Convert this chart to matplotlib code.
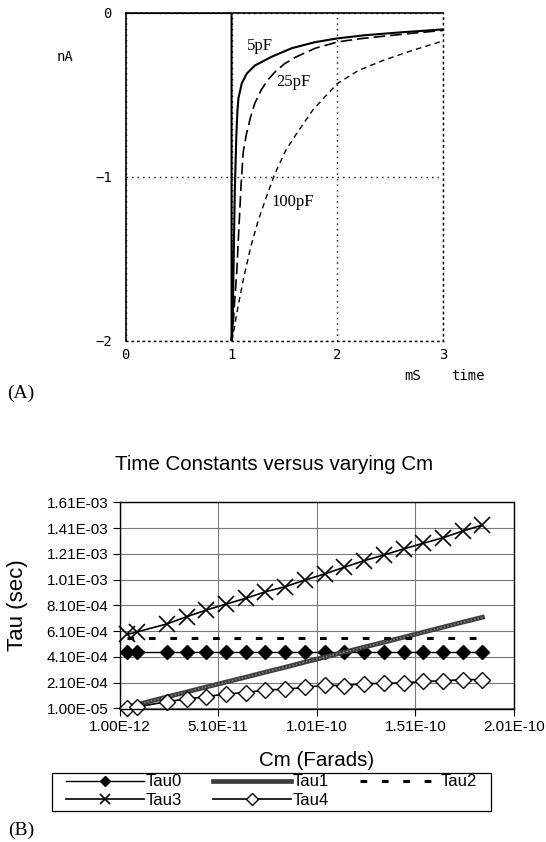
import matplotlib
matplotlib.use("Agg")
import matplotlib.pyplot as plt
from matplotlib.patches import Rectangle

W, H = 546, 842

# ---------------- Panel A data ----------------
t_5pF = [0.0, 1.0, 1.0, 1.01, 1.02, 1.03, 1.045, 1.055, 1.065, 1.096, 1.143, 1.221, 1.379, 1.568, 1.788, 2.0, 2.27, 2.6, 3.0]
I_5pF = [0.0, 0.0, -2.0, -1.9, -1.5, -1.1, -0.75, -0.6, -0.52, -0.43, -0.37, -0.32, -0.267, -0.215, -0.178, -0.155, -0.135, -0.118, -0.100]

t_25pF = [1.0, 1.01, 1.03, 1.05, 1.07, 1.09, 1.11, 1.14, 1.18, 1.22, 1.28, 1.34, 1.41, 1.5, 1.61, 1.79, 2.0, 2.2, 2.43, 2.7, 3.0]
I_25pF = [-2.0, -1.95, -1.75, -1.57, -1.3, -1.05, -0.85, -0.74, -0.634, -0.55, -0.47, -0.41, -0.36, -0.31, -0.268, -0.215, -0.177, -0.158, -0.142, -0.124, -0.106]

t_100pF = [1.0, 1.01, 1.05, 1.11, 1.18, 1.25, 1.33, 1.41, 1.51, 1.61, 1.77, 2.0, 2.2, 2.43, 2.7, 3.0]
I_100pF = [-2.0, -1.98, -1.83, -1.63, -1.43, -1.27, -1.12, -0.98, -0.84, -0.74, -0.59, -0.43, -0.35, -0.29, -0.23, -0.17]

a_xticks = [0, 1, 2, 3]
a_yticks = [0, -1, -2]

# ---------------- Panel B data ----------------
Cm = [5e-12, 1.0e-11, 2.5e-11, 3.5e-11, 4.5e-11, 5.5e-11, 6.5e-11, 7.5e-11, 8.5e-11, 9.5e-11,
      1.05e-10, 1.15e-10, 1.25e-10, 1.35e-10, 1.45e-10, 1.55e-10, 1.65e-10, 1.75e-10, 1.85e-10]
Tau0 = [4.52e-4] * 19
Tau1 = [2.2e-5, 4.0e-5, 1.0e-4, 1.38e-4, 1.77e-4, 2.15e-4, 2.53e-4, 2.92e-4, 3.30e-4, 3.70e-4,
        4.08e-4, 4.47e-4, 4.86e-4, 5.24e-4, 5.63e-4, 6.02e-4, 6.41e-4, 6.80e-4, 7.18e-4]
Tau2 = [5.58e-4] * 19
Tau3 = [5.85e-4, 6.05e-4, 6.66e-4, 7.22e-4, 7.74e-4, 8.2e-4, 8.65e-4, 9.16e-4, 9.55e-4, 1.007e-3,
        1.054e-3, 1.106e-3, 1.157e-3, 1.201e-3, 1.248e-3, 1.292e-3, 1.335e-3, 1.387e-3, 1.434e-3]
Tau4 = [1.5e-5, 2.2e-5, 6.3e-5, 8.4e-5, 1.02e-4, 1.23e-4, 1.33e-4, 1.54e-4, 1.59e-4, 1.74e-4,
        1.9e-4, 1.88e-4, 2.02e-4, 2.06e-4, 2.08e-4, 2.2e-4, 2.24e-4, 2.35e-4, 2.33e-4]
b_yticks = [1.0e-5, 2.1e-4, 4.1e-4, 6.1e-4, 8.1e-4, 1.01e-3, 1.21e-3, 1.41e-3, 1.61e-3]
b_xticks = [1.0e-12, 5.1e-11, 1.01e-10, 1.51e-10, 2.01e-10]

fig = plt.figure(figsize=(W / 100, H / 100), dpi=100)
fig.patch.set_facecolor("white")


def fx(px):
    return px / W


def fy(py):
    return 1 - py / H


def axes_px(l, t, r, b):
    return fig.add_axes([fx(l), fy(b), (r - l) / W, (b - t) / H])


MONO = "DejaVu Sans Mono"
SERIF = "Liberation Serif"
SANS = "Liberation Sans"

# ---------------- Panel A ----------------
axA = axes_px(125.7, 13.0, 443.3, 340.7)
axA.set_xlim(0, 3)
axA.set_ylim(-2, 0)
axA.plot(t_5pF, I_5pF, color="black", lw=1.5, solid_joinstyle="round")
axA.plot(t_25pF, I_25pF, color="black", lw=1.2, dashes=(7, 3))
axA.plot(t_100pF, I_100pF, color="black", lw=1.0, dashes=(4, 3))
axA.set_xticks(a_xticks)
axA.set_yticks(a_yticks)
axA.set_xticklabels([str(v) for v in a_xticks], fontfamily=MONO, fontsize=10)
axA.set_yticklabels([str(v).replace("-", "\u2212") for v in a_yticks], fontfamily=MONO, fontsize=10)
axA.tick_params(axis="x", length=0, pad=5)
axA.tick_params(axis="y", length=0, pad=10)
axA.grid(True, color="black", lw=1.0, linestyle=(0, (1, 3)))
for s in ["right", "bottom"]:
    axA.spines[s].set_linestyle((0, (1, 3)))
    axA.spines[s].set_linewidth(1.0)
for s in ["top", "left"]:
    axA.spines[s].set_linewidth(1.2)

fig.text(fx(64.5), fy(57), "nA", fontfamily=MONO, fontsize=10, ha="center", va="center")
fig.text(fx(413), fy(376), "mS", fontfamily=MONO, fontsize=10, ha="center", va="center")
fig.text(fx(468), fy(376), "time", fontfamily=MONO, fontsize=10, ha="center", va="center")
fig.text(fx(260), fy(46), "5pF", fontfamily=SERIF, fontsize=12, ha="center", va="center")
fig.text(fx(293), fy(82), "25pF", fontfamily=SERIF, fontsize=12, ha="center", va="center")
fig.text(fx(293), fy(202), "100pF", fontfamily=SERIF, fontsize=12, ha="center", va="center")
fig.text(fx(21), fy(393), "(A)", fontfamily=SERIF, fontsize=14, ha="center", va="center")

# ---------------- Panel B ----------------
axB = axes_px(119.5, 502.3, 514.0, 708.5)
axB.set_xlim(b_xticks[0], b_xticks[-1])
axB.set_ylim(b_yticks[0], b_yticks[-1])
axB.set_axisbelow(True)
axB.grid(True, color="#7a7a7a", lw=0.8)

l0, = axB.plot(Cm, Tau0, color="black", lw=1.0, marker="D", ms=7.2, mfc="black", mec="black", clip_on=False)
l1, = axB.plot(Cm, Tau1, color="#3e3e3e", lw=3.4, clip_on=False)
axB.plot(Cm, Tau1, color="#8c8c8c", lw=1.0, dashes=(1, 1.5), clip_on=False)
l2, = axB.plot(Cm, Tau2, color="black", lw=2.2, dashes=(2.2, 4.8), clip_on=False)
l3, = axB.plot(Cm, Tau3, color="black", lw=1.2, marker="x", ms=11, mew=1.2, clip_on=False)
l4, = axB.plot(Cm, Tau4, color="black", lw=1.2, marker="D", ms=8.2, mfc="white", mec="black", mew=1.0, clip_on=False)

axB.set_xticks(b_xticks)
axB.set_yticks(b_yticks)
axB.set_xticklabels(["%.2E" % v for v in b_xticks], fontfamily=SANS, fontsize=11)
axB.set_yticklabels(["%.2E" % v for v in b_yticks], fontfamily=SANS, fontsize=11)
axB.tick_params(direction="out", length=5, width=0.8, color="black", pad=3)
for s in axB.spines.values():
    s.set_linewidth(1.0)
    s.set_color("black")

fig.text(fx(274), fy(465), "Time Constants versus varying Cm", fontfamily=SANS, fontsize=14.8,
         ha="center", va="center")
fig.text(fx(317), fy(760), "Cm (Farads)", fontfamily=SANS, fontsize=14.8, ha="center", va="center")
fig.text(fx(18), fy(605), "Tau (sec)", fontfamily=SANS, fontsize=16, ha="center", va="center",
         rotation=90)

leg = fig.legend([l0, l3, l1, l4, l2], ["Tau0", "Tau3", "Tau1", "Tau4", "Tau2"], ncol=3,
                 loc="upper left", bbox_to_anchor=(fx(66), fy(774.5)), borderaxespad=0,
                 prop={"family": SANS, "size": 12}, handlelength=4.7, handletextpad=0.1,
                 columnspacing=1.85, borderpad=0, labelspacing=0.2, frameon=False,
                 markerscale=0.7)
fig.add_artist(Rectangle((fx(52.3), fy(810.7)), (490.6 - 52.3) / W, (810.7 - 772.7) / H,
                         transform=fig.transFigure, fill=False, edgecolor="black", lw=0.9))

fig.text(fx(21), fy(830), "(B)", fontfamily=SERIF, fontsize=14, ha="center", va="center")

fig.savefig("out.png", dpi=100, facecolor="white")
